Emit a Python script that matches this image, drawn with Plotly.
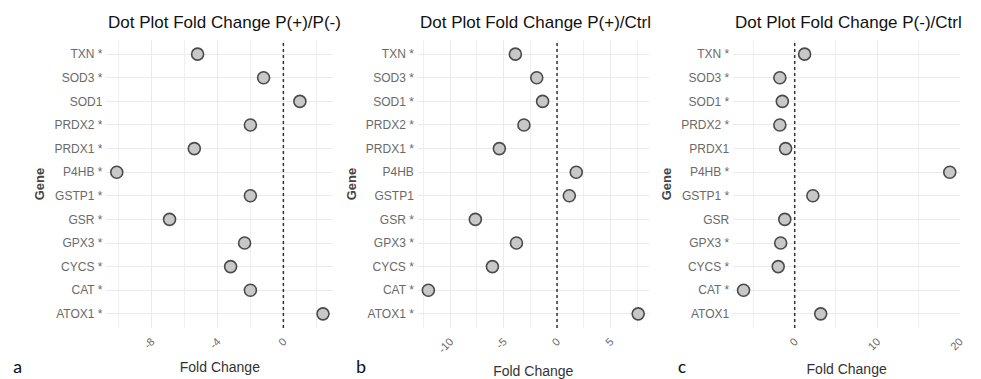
import plotly.graph_objects as go

genes = ["TXN", "SOD3", "SOD1", "PRDX2", "PRDX1", "P4HB", "GSTP1", "GSR", "GPX3", "CYCS", "CAT", "ATOX1"]
fc_a = [-5.2, -1.2, 1.0, -2.0, -5.4, -10.1, -2.0, -6.9, -2.35, -3.2, -2.0, 2.4]
fc_b = [-3.9, -1.9, -1.35, -3.1, -5.4, 1.8, 1.15, -7.65, -3.8, -6.05, -12.05, 7.6]
fc_c = [1.2, -1.8, -1.5, -1.8, -1.1, 18.8, 2.2, -1.2, -1.7, -2.0, -6.2, 3.15]
sig_a = [1, 1, 0, 1, 1, 1, 1, 1, 1, 1, 1, 1]
sig_b = [1, 1, 1, 1, 1, 0, 0, 1, 1, 1, 1, 1]
sig_c = [1, 1, 1, 1, 0, 1, 1, 0, 1, 1, 1, 0]
titles = ["Dot Plot Fold Change P(+)/P(-)", "Dot Plot Fold Change P(+)/Ctrl", "Dot Plot Fold Change P(-)/Ctrl"]
panel_letters = ["a", "b", "c"]
major_ticks = [[-8, -4, 0], [-10, -5, 0, 5], [0, 10, 20]]
minor_ticks = [[-10, -6, -2, 2], [-12.5, -7.5, -2.5, 2.5, 7.5], [-5, 5, 15]]

W, H = 981, 379
x_dom_px = [(107, 335), (420, 652), (737, 965)]
y_top_px, y_bot_px = 40, 328
ydom = [(H - y_bot_px) / H, (H - y_top_px) / H]
FONT = "Liberation Sans, Arial"

fig = go.Figure()
annotations = []
shapes = []
for i, (fc, sig) in enumerate(zip([fc_a, fc_b, fc_c], [sig_a, sig_b, sig_c])):
    labels = [g + (" *" if s else "") for g, s in zip(genes, sig)]
    sfx = "" if i == 0 else str(i + 1)
    fig.add_trace(go.Scatter(
        x=fc, y=labels, mode="markers",
        marker=dict(size=12, color="#c8c8c8", line=dict(color="#4a4a4a", width=1.6)),
        xaxis="x" + sfx, yaxis="y" + sfx, showlegend=False, cliponaxis=False,
    ))
    lo, hi = min(fc), max(fc)
    pad = (hi - lo) * 0.05
    dom = [x_dom_px[i][0] / W, x_dom_px[i][1] / W]
    fig.update_layout(**{
        "xaxis" + sfx: dict(
            domain=dom, anchor="y" + sfx, range=[lo - pad, hi + pad],
            tickvals=major_ticks[i], ticktext=[str(v) for v in major_ticks[i]],
            tickangle=-45, tickfont=dict(size=11, color="#666666", family=FONT),
            ticklabelstandoff=4,
            showgrid=True, gridcolor="#ebebeb", gridwidth=1, zeroline=False, showline=False, ticks="",
            minor=dict(tickvals=minor_ticks[i], showgrid=True, gridcolor="#efefef", gridwidth=1),
            title=dict(text="Fold Change", font=dict(size=14, color="#333333", family=FONT), standoff=12),
        ),
        "yaxis" + sfx: dict(
            domain=ydom, anchor="x" + sfx, type="category",
            categoryorder="array", categoryarray=labels[::-1], range=[-0.6, 11.6],
            tickfont=dict(size=12, color="#6a6a6a", family=FONT),
            showgrid=True, gridcolor="#ebebeb", gridwidth=1, zeroline=False, showline=False, ticks="",
            ticklabelstandoff=3,
            title=dict(text="<b>Gene</b>", font=dict(size=13, color="#444444", family=FONT), standoff=6),
        ),
    })
    shapes.append(dict(type="line", xref="x" + sfx, yref="y" + sfx + " domain",
                       x0=0, x1=0, y0=0, y1=1, line=dict(color="#333333", width=1.5, dash="dot")))
    annotations.append(dict(text=titles[i], xref="paper", yref="paper",
                            x=x_dom_px[i][0] / W, y=(H - 22) / H, xanchor="left", yanchor="middle",
                            showarrow=False, font=dict(size=17, color="#111111", family=FONT)))
letter_x = [18, 363, 685]
for i, lt in enumerate(panel_letters):
    annotations.append(dict(text=lt, xref="paper", yref="paper", x=letter_x[i] / W, y=(H - 366) / H,
                            xanchor="center", yanchor="middle", showarrow=False,
                            font=dict(size=19, color="#111111", family="Carlito, Liberation Sans, Arial")))

fig.update_layout(width=W, height=H, margin=dict(l=0, r=0, t=0, b=0),
                  paper_bgcolor="white", plot_bgcolor="white",
                  annotations=annotations, shapes=shapes)
fig.write_html("out.html", config={"displayModeBar": False},
               post_script="document.body.style.margin='0px';document.body.style.overflow='hidden';")
